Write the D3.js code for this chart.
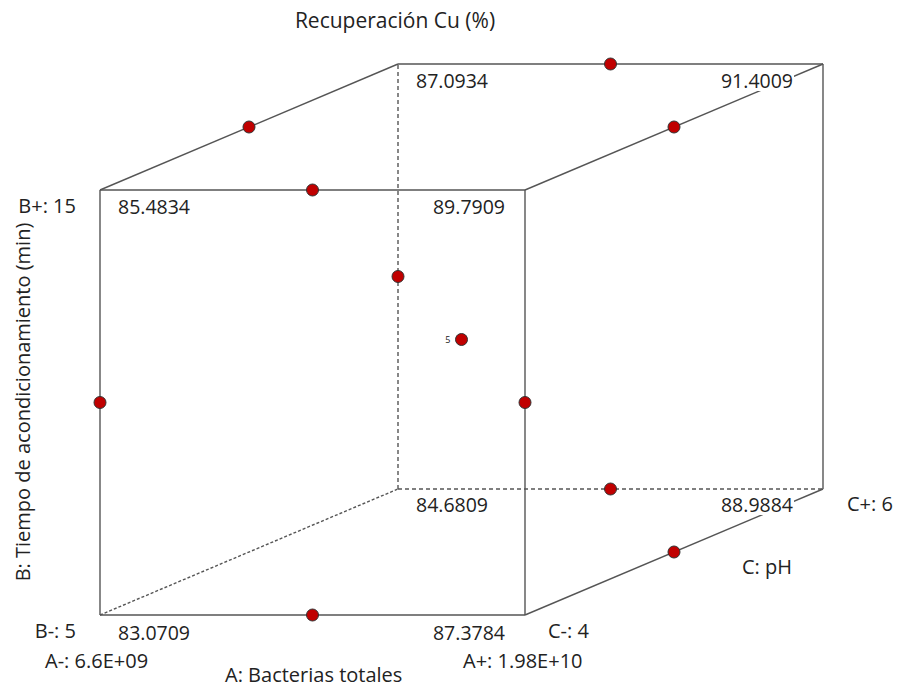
<!DOCTYPE html>
<meta charset="utf-8" />
<head>
  <script src="https://d3js.org/d3.v7.min.js"></script>
  <style>
    body { margin: 0; background: #fff; }
    text { font-family: "Open Sans", "Noto Sans", sans-serif; fill: #222; }
  </style>
</head>
<body>
  <div id="cube"></div>
</body>
<script>
  // cube corner responses, coded levels A (bacterias), B (tiempo), C (pH)
  const cornerA = [-1, 1, -1, 1, -1, 1, -1, 1];
  const cornerB = [-1, -1, 1, 1, -1, -1, 1, 1];
  const cornerC = [-1, -1, -1, -1, 1, 1, 1, 1];
  const cornerValues = [83.0709, 87.3784, 85.4834, 89.7909, 84.6809, 88.9884, 87.0934, 91.4009];

  // design points on edge midpoints and centre (coded)
  const pointA = [0, 0, -1, 1, 0, 0, -1, -1, 1, 1, 0];
  const pointB = [1, -1, 0, 0, 1, -1, 0, 1, 1, -1, 0];
  const pointC = [-1, -1, -1, -1, 1, 1, 1, 0, 0, 0, 0];
  const pointLabel = ["", "", "", "", "", "", "", "", "", "", "5"];

  const title = "Recuperación Cu (%)";
  const axisA = { name: "A: Bacterias totales", lo: "A-: 6.6E+09", hi: "A+: 1.98E+10" };
  const axisB = { name: "B: Tiempo de acondicionamiento (min)", lo: "B-: 5", hi: "B+: 15" };
  const axisC = { name: "C: pH", lo: "C-: 4", hi: "C+: 6" };

  const W = 899, H = 687;
  const x = d3.scaleLinear().domain([-1, 1]).range([100, 525]);
  const y = d3.scaleLinear().domain([-1, 1]).range([615, 190]);
  const dx = d3.scaleLinear().domain([-1, 1]).range([0, 298]);
  const dy = d3.scaleLinear().domain([-1, 1]).range([0, -126]);

  function px(a, b, c) { return x(a) + dx(c); }
  function py(a, b, c) { return y(b) + dy(c); }

  const svg = d3.select("#cube").append("svg")
    .attr("width", W).attr("height", H);

  // edges: [a1,b1,c1,a2,b2,c2,dashed]
  const edges = [
    [-1, -1, -1, 1, -1, -1, 0], [-1, 1, -1, 1, 1, -1, 0],
    [-1, -1, -1, -1, 1, -1, 0], [1, -1, -1, 1, 1, -1, 0],
    [-1, 1, 1, 1, 1, 1, 0], [1, -1, 1, 1, 1, 1, 0],
    [-1, -1, 1, 1, -1, 1, 1], [-1, -1, 1, -1, 1, 1, 1],
    [-1, 1, -1, -1, 1, 1, 0], [1, 1, -1, 1, 1, 1, 0],
    [1, -1, -1, 1, -1, 1, 0], [-1, -1, -1, -1, -1, 1, 2]
  ];

  svg.append("g").selectAll("line").data(edges).join("line")
    .attr("x1", d => px(d[0], d[1], d[2])).attr("y1", d => py(d[0], d[1], d[2]))
    .attr("x2", d => px(d[3], d[4], d[5])).attr("y2", d => py(d[3], d[4], d[5]))
    .attr("stroke", "#555").attr("stroke-width", 1.4)
    .attr("stroke-dasharray", d => d[6] === 1 ? "4,3" : d[6] === 2 ? "3,2" : null);

  // corner value labels (white box behind, it hides the diagonals)
  const labelG = svg.append("g");
  cornerValues.forEach((v, i) => {
    const a = cornerA[i], b = cornerB[i], c = cornerC[i];
    const left = a < 0;
    const t = labelG.append("text")
      .attr("x", px(a, b, c) + (left ? 18 : (c > 0 ? -30 : -20)))
      .attr("y", py(a, b, c) + (b > 0 ? 24 : (c > 0 ? 23 : 25)))
      .attr("text-anchor", left ? "start" : "end")
      .style("font-size", "19.5px")
      .text(v.toFixed(4));
    const bb = t.node().getBBox();
    labelG.insert("rect", () => t.node())
      .attr("x", bb.x - 1).attr("y", bb.y + 3)
      .attr("width", bb.width + 2).attr("height", bb.height - 6)
      .attr("fill", "#fff");
  });

  // design points
  const pts = pointA.map((a, i) => ({ a, b: pointB[i], c: pointC[i], lab: pointLabel[i] }));
  svg.append("g").selectAll("circle").data(pts).join("circle")
    .attr("cx", d => px(d.a, d.b, d.c)).attr("cy", d => py(d.a, d.b, d.c))
    .attr("r", 6).attr("fill", "#c00000").attr("stroke", "#333").attr("stroke-width", 1);

  svg.append("g").selectAll("text").data(pts.filter(d => d.lab)).join("text")
    .attr("x", d => px(d.a, d.b, d.c) - 11).attr("y", d => py(d.a, d.b, d.c) + 3)
    .attr("text-anchor", "end").style("font-size", "9px").text(d => d.lab);

  // title
  svg.append("text").attr("x", 395).attr("y", 28).attr("text-anchor", "middle")
    .style("font-size", "21px").text(title);

  // factor labels
  const f = 20;
  function lab(tx, ty, s, anchor) {
    svg.append("text").attr("x", tx).attr("y", ty).attr("text-anchor", anchor || "start")
      .style("font-size", f + "px").text(s);
  }
  lab(76, 213, axisB.hi, "end");
  lab(76, 638, axisB.lo, "end");
  lab(45, 668, axisA.lo);
  lab(463, 668, axisA.hi);
  lab(225, 682, axisA.name);
  lab(548, 638, axisC.lo);
  lab(847, 511, axisC.hi);
  lab(742, 574, axisC.name);
  svg.append("text")
    .attr("transform", "translate(30,402) rotate(-90)")
    .attr("text-anchor", "middle").style("font-size", f + "px").text(axisB.name);
</script>
